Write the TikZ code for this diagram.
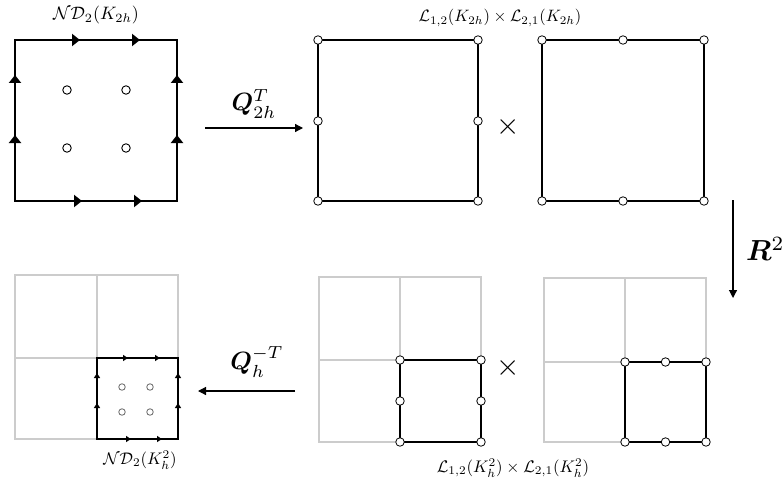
\documentclass[tikz,border=0pt]{standalone}
\usepackage{amsmath,amssymb,bm}
\usetikzlibrary{arrows.meta}
\begin{document}
\begin{tikzpicture}[x=1pt,y=-1pt,
  sq/.style={line width=1.7pt},
  gridline/.style={draw=black!20, line width=1.6pt},
  vdot/.style={circle, draw=black, fill=white, line width=0.8pt, inner sep=0pt, minimum size=8.5pt},
  idot/.style={circle, draw=black, line width=0.9pt, inner sep=0pt, minimum size=8.5pt},
  sidot/.style={circle, draw=black!60, line width=0.8pt, inner sep=0pt, minimum size=6.5pt},
  earr/.style={line width=2.8pt, -{Triangle[length=8pt,width=12pt]}},
  searr/.style={line width=1.3pt, -{Triangle[length=5pt,width=6pt]}},
  maparr/.style={line width=1.2pt, -{Triangle[length=8pt,width=8pt]}},
  lab/.style={inner sep=0pt},
]
\fill[white] (0,0) rectangle (783,484);
\useasboundingbox (0,0) rectangle (783,484);

% ---------- top left: ND_2(K_2h)
\draw[sq] (15,40) rectangle (177,201);
\draw[earr] (52,40) -- (80,40);
\draw[earr] (113,40) -- (140,40);
\draw[earr] (53,201) -- (82,201);
\draw[earr] (115,201) -- (142,201);
\draw[earr] (15,100) -- (15,75);
\draw[earr] (15,160) -- (15,135);
\draw[earr] (177,100) -- (177,75);
\draw[earr] (177,160) -- (177,135);
\node[idot] (a1) at (67,90) {};
\node[idot] (a2) at (126,90) {};
\node[idot] (a3) at (67,148) {};
\node[idot] (a4) at (126,148) {};
\node[lab] (lnd1) at (96,15) {\scalebox{1.8}{$\mathcal{ND}_2(K_{2h})$}};

% ---------- map Q_2h^T
\coordinate (q1s) at (205,128);
\coordinate (q1e) at (303,128);
\draw[maparr] (q1s) -- (q1e);
\node[lab] (lq1) at (254,104) {\scalebox{2.5}{$\boldsymbol{Q}_{2h}^T$}};

% ---------- top middle: L_12
\draw[sq] (318,40) rectangle (478,201);
\foreach \p/\n in {{(318,40)}/b1,{(478,40)}/b2,{(318,201)}/b3,{(478,201)}/b4,{(318,121)}/b5,{(478,121)}/b6}
  \node[vdot] (\n) at \p {};
\node[lab] (x1) at (508,127) {\scalebox{3}{$\times$}};

% ---------- top right: L_21
\draw[sq] (542,40) rectangle (704,201);
\foreach \p/\n in {{(542,40)}/c1,{(704,40)}/c2,{(542,201)}/c3,{(704,201)}/c4,{(623,40)}/c5,{(623,201)}/c6}
  \node[vdot] (\n) at \p {};
\node[lab] (lL1) at (500,18) {\scalebox{1.65}{$\mathcal{L}_{1,2}(K_{2h})\times\mathcal{L}_{2,1}(K_{2h})$}};

% ---------- map R^2
\coordinate (r1s) at (733,200);
\coordinate (r1e) at (733,298);
\draw[maparr] (r1s) -- (r1e);
\node[lab, anchor=west] (lr) at (746,249) {\scalebox{2.9}{$\boldsymbol{R}^2$}};

% ---------- bottom left: ND_2(K_h^2)
\draw[gridline] (15,275) rectangle (178,439);
\draw[gridline] (97,275) -- (97,439);
\draw[gridline] (15,358) -- (178,358);
\draw[sq] (97,358) rectangle (178,439);
\draw[searr] (118,358) -- (128,358);
\draw[searr] (150,358) -- (160,358);
\draw[searr] (121,439) -- (131,439);
\draw[searr] (152,439) -- (162,439);
\draw[searr] (97,383) -- (97,373);
\draw[searr] (97,413) -- (97,403);
\draw[searr] (178,383) -- (178,373);
\draw[searr] (178,413) -- (178,403);
\node[sidot] (d1) at (122,387) {};
\node[sidot] (d2) at (150,387) {};
\node[sidot] (d3) at (122,412) {};
\node[sidot] (d4) at (150,412) {};
\node[lab] (lnd2) at (140,460) {\scalebox{1.68}{$\mathcal{ND}_2(K_h^2)$}};

% ---------- map Q_h^-T
\coordinate (q2s) at (295,391);
\coordinate (q2e) at (198,391);
\draw[maparr] (q2s) -- (q2e);
\node[lab] (lq2) at (257,362) {\scalebox{2.5}{$\boldsymbol{Q}_h^{-T}$}};

% ---------- bottom middle
\draw[gridline] (319,277) rectangle (481,442);
\draw[gridline] (400,277) -- (400,442);
\draw[gridline] (319,360) -- (481,360);
\draw[sq] (400,360) rectangle (481,442);
\foreach \p/\n in {{(400,360)}/e1,{(481,360)}/e2,{(400,442)}/e3,{(481,442)}/e4,{(400,401)}/e5,{(481,401)}/e6}
  \node[vdot] (\n) at \p {};
\node[lab] (x2) at (508,368) {\scalebox{3}{$\times$}};

% ---------- bottom right
\draw[gridline] (544,278) rectangle (706,442);
\draw[gridline] (625,278) -- (625,442);
\draw[gridline] (544,362) -- (706,362);
\draw[sq] (625,362) rectangle (706,442);
\foreach \p/\n in {{(625,362)}/f1,{(706,362)}/f2,{(625,442)}/f3,{(706,442)}/f4,{(665.5,362)}/f5,{(665.5,442)}/f6}
  \node[vdot] (\n) at \p {};
\node[lab] (lL2) at (513,468) {\scalebox{1.68}{$\mathcal{L}_{1,2}(K_h^2)\times\mathcal{L}_{2,1}(K_h^2)$}};
\end{tikzpicture}
\end{document}
